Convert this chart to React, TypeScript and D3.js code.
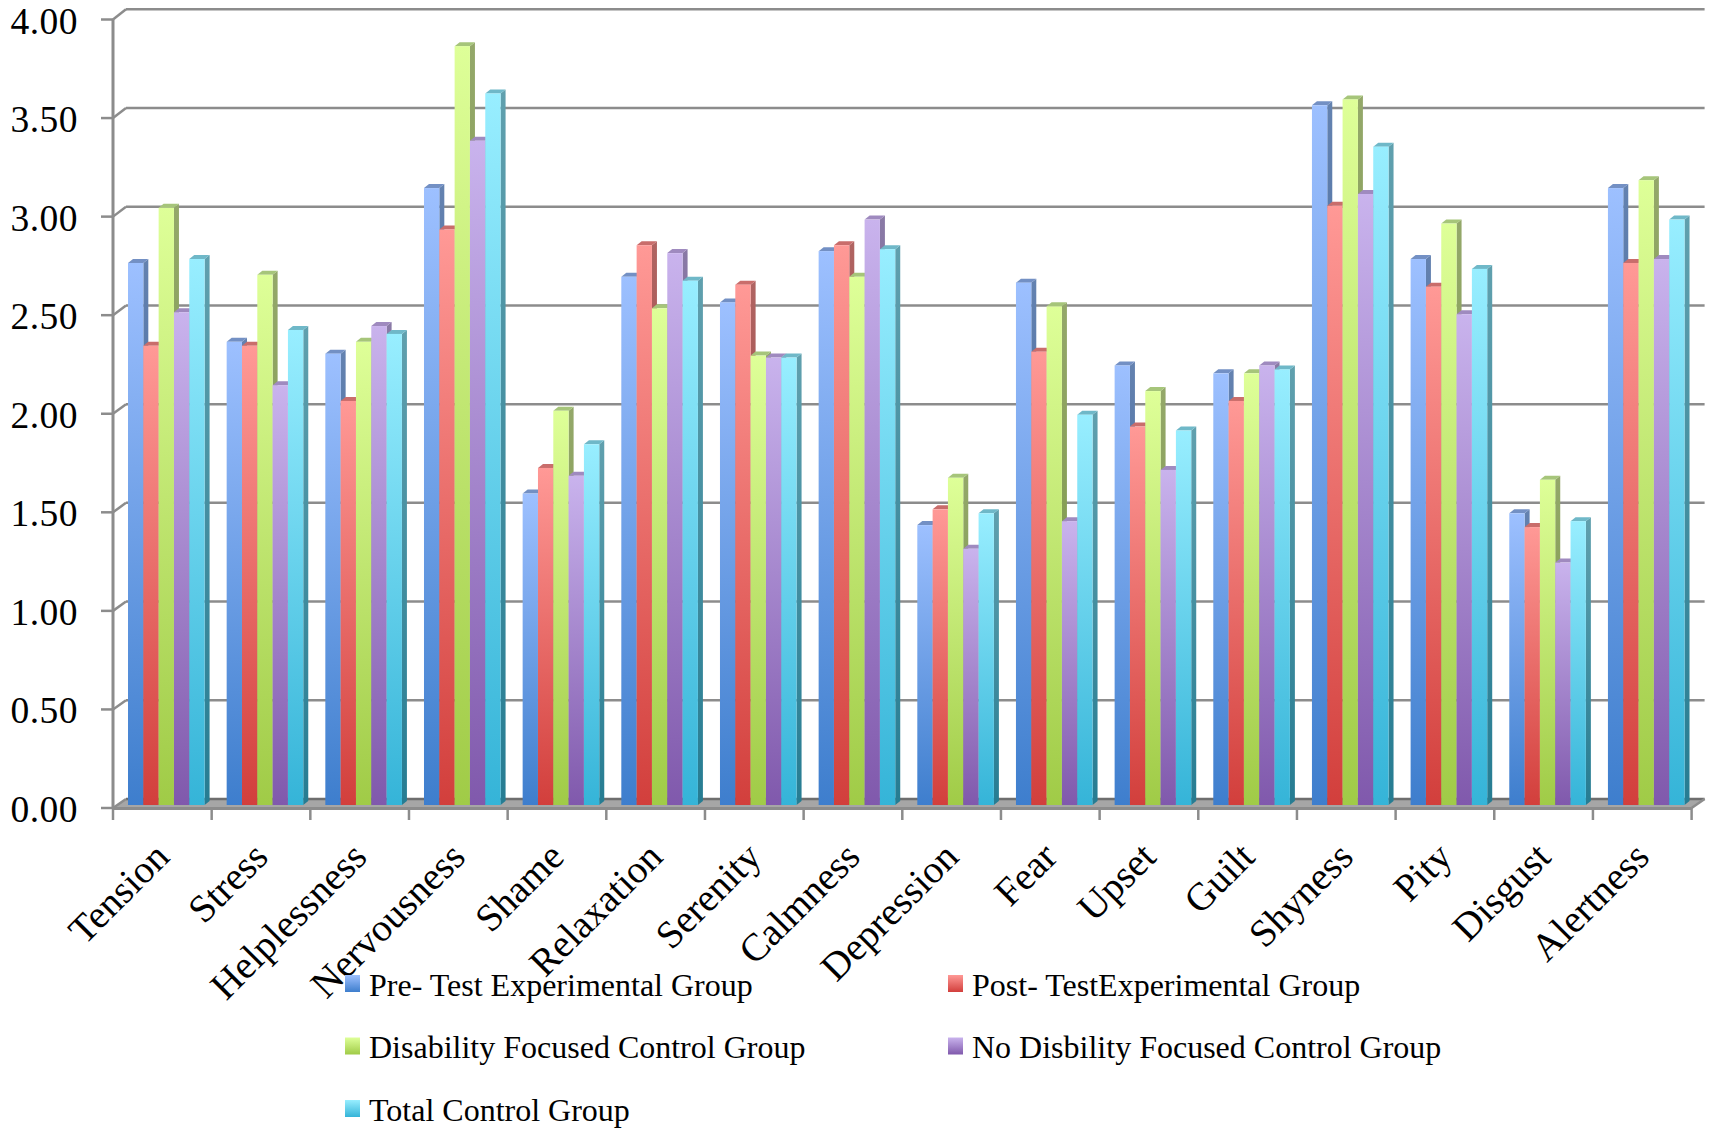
import React from "react";
import * as d3 from "d3";

const categories = ["Tension","Stress","Helplessness","Nervousness","Shame","Relaxation","Serenity","Calmness","Depression","Fear","Upset","Guilt","Shyness","Pity","Disgust","Alertness"];
const preTest = [2.75,2.35,2.29,3.13,1.58,2.68,2.55,2.81,1.42,2.65,2.23,2.19,3.55,2.77,1.48,3.13];
const postTest = [2.33,2.33,2.05,2.92,1.71,2.84,2.64,2.84,1.50,2.30,1.92,2.05,3.04,2.63,1.41,2.75];
const disabilityFocused = [3.03,2.69,2.35,3.85,2.00,2.52,2.28,2.68,1.66,2.53,2.10,2.19,3.58,2.95,1.65,3.17];
const noDisabilityFocused = [2.50,2.13,2.43,3.37,1.67,2.80,2.27,2.97,1.30,1.44,1.70,2.23,3.10,2.49,1.23,2.77];
const totalControl = [2.77,2.41,2.39,3.61,1.83,2.66,2.27,2.82,1.48,1.98,1.90,2.21,3.34,2.72,1.44,2.97];
const tickValues = [0,0.5,1,1.5,2,2.5,3,3.5,4];

const seriesNames = ["Pre- Test Experimental Group","Post- TestExperimental Group","Disability Focused Control Group","No Disbility Focused Control Group","Total Control Group"];
const seriesValues = [preTest, postTest, disabilityFocused, noDisabilityFocused, totalControl];
const lightColors = ["#9dc0ff","#ff9996","#deff98","#c9b3ed","#98eeff"];
const darkColors = ["#3e7ecd","#d23f3c","#a0cb47","#8059ac","#35b4d8"];
const topColors = ["#7390c4","#c96d6b","#a6c57a","#9f8abf","#6fb8c8"];
const sideLight = ["#6482b0","#b06462","#94a86a","#8a7aa6","#60a0ae"];
const sideDark = ["#2c5a92","#963230","#74923a","#5c4080","#267c92"];

const SERIF = "'Liberation Serif', serif";
const GRID = "#8c8c8c";

const yFront = d3.scaleLinear().domain([0, 4]).range([808, 19.5]);
const yBack = d3.scaleLinear().domain([0, 4]).range([799, 9.3]);
const yBar = d3.scaleLinear().domain([0, 4]).range([805, 16.6]);
const xCat = d3.scaleBand<string>().domain(categories).range([113, 1691.6]);
const xSeries = d3.scaleBand<number>().domain([0, 1, 2, 3, 4]).range([15, 91.6]);

const DX = 5;
const DY = 4;

export default function App() {
  const left = 113;
  const right = 1691.6;
  return (
    <svg width={1716} height={1135} style={{ position: "absolute", left: 0, top: 0, background: "#fff" }}>
      <defs>
        {seriesNames.map((_, i) => (
          <React.Fragment key={i}>
            <linearGradient id={`front${i}`} x1="0" y1="0" x2="0" y2="1">
              <stop offset="0" stopColor={lightColors[i]} />
              <stop offset="1" stopColor={darkColors[i]} />
            </linearGradient>
            <linearGradient id={`side${i}`} x1="0" y1="0" x2="0" y2="1">
              <stop offset="0" stopColor={sideLight[i]} />
              <stop offset="1" stopColor={sideDark[i]} />
            </linearGradient>
          </React.Fragment>
        ))}
      </defs>

      {/* Floor of the 3-D plot */}
      <polygon points={`${left},${yFront(0)} ${left + 13},${yBack(0)} ${right + 13},${yBack(0)} ${right},${yFront(0)}`} fill="#a6a6a6" />
      <line x1={left + 13} x2={right + 13} y1={yBack(0)} y2={yBack(0)} stroke="#6e6e6e" strokeWidth={2.5} />
      <line x1={left} x2={right} y1={yFront(0) + 0.5} y2={yFront(0) + 0.5} stroke={GRID} strokeWidth={3} />
      <line x1={right} x2={right + 13} y1={yFront(0)} y2={yBack(0)} stroke={GRID} strokeWidth={2.5} />

      {/* Value gridlines, their side-wall returns and ticks */}
      {tickValues.map((t) => (
        <g key={t} stroke={GRID} strokeWidth={2.5} fill="none">
          {t > 0 && <line x1={left + 13} x2={right + 13} y1={yBack(t)} y2={yBack(t)} />}
          <line x1={left} x2={left + 13} y1={yFront(t)} y2={yBack(t)} />
          <line x1={101} x2={left} y1={yFront(t)} y2={yFront(t)} />
        </g>
      ))}
      <line x1={left} x2={left} y1={yFront(4)} y2={yFront(0)} stroke={GRID} strokeWidth={3} />

      {/* Category ticks */}
      {d3.range(0, categories.length + 1).map((i) => {
        const x = left + i * xCat.step();
        return <line key={i} x1={x} x2={x} y1={yFront(0)} y2={820} stroke={GRID} strokeWidth={2.5} />;
      })}

      {/* Bars: side, top, then front, left to right within each group */}
      {categories.map((c, ci) => (
        <g key={c}>
          {seriesValues.map((vals, si) => {
            const x0 = (xCat(c) as number) + (xSeries(si) as number);
            const x1 = x0 + xSeries.bandwidth();
            const yt = yBar(vals[ci]);
            const yb = yBar(0);
            return (
              <g key={si}>
                <polygon points={`${x1},${yt} ${x1 + DX},${yt - DY} ${x1 + DX},${yb - DY} ${x1},${yb}`} fill={`url(#side${si})`} />
                <polygon points={`${x0},${yt} ${x0 + DX},${yt - DY} ${x1 + DX},${yt - DY} ${x1},${yt}`} fill={topColors[si]} />
                <rect x={x0} y={yt} width={x1 - x0} height={yb - yt} fill={`url(#front${si})`} />
              </g>
            );
          })}
        </g>
      ))}

      {/* Value labels */}
      {tickValues.map((t) => (
        <text key={t} x={78} y={yFront(t) + 14} textAnchor="end" fontFamily={SERIF} fontSize={37.5} letterSpacing={0.5} fill="#000">
          {t.toFixed(2)}
        </text>
      ))}

      {/* Category labels */}
      {categories.map((c) => {
        const x = (xCat(c) as number) + xCat.bandwidth() / 2 + 9;
        return (
          <text key={c} transform={`translate(${x},${859}) rotate(-45)`} textAnchor="end" fontFamily={SERIF} fontSize={39} fill="#000">
            {c}
          </text>
        );
      })}

      {/* Legend */}
      {seriesNames.map((name, i) => {
        const col = i % 2;
        const row = Math.floor(i / 2);
        const sx = col === 0 ? 345 : 948;
        const sy = 975 + row * 62.5;
        return (
          <g key={name}>
            <rect x={sx} y={sy} width={15} height={17} fill={`url(#front${i})`} />
            <text x={col === 0 ? 369 : 972} y={sy + 20.5} fontFamily={SERIF} fontSize={32} fill="#000">
              {name}
            </text>
          </g>
        );
      })}
    </svg>
  );
}
